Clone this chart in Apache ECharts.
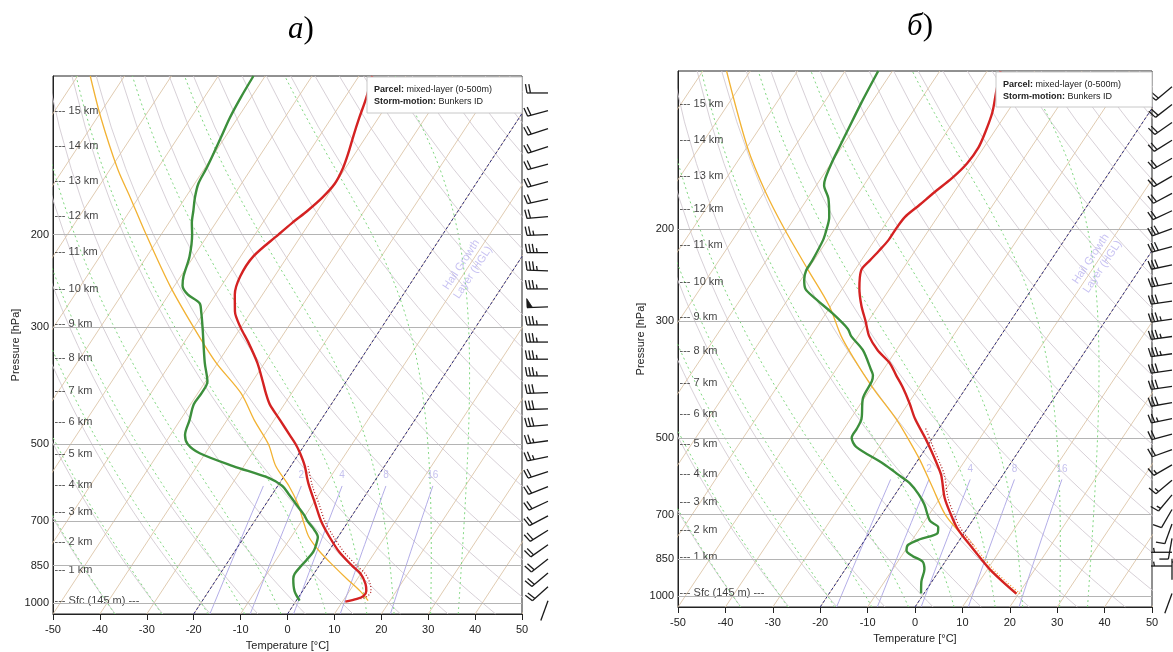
<!DOCTYPE html>
<html>
<head>
<meta charset="utf-8">
<script src="https://cdn.jsdelivr.net/npm/echarts@6/dist/echarts.min.js"></script>
<style>
  html, body { margin: 0; padding: 0; background: #fff; }
  #chart { width: 1173px; height: 652px; }
</style>
</head>
<body>
<div id="chart"></div>
<script>
// ---------------------------------------------------------------
// Skew-T / log-p geometry: x = T + SKEW * ln(P_BOTTOM / p)
// ---------------------------------------------------------------
const P_BOTTOM = 1050;
const P_TOP = 100;
const SKEW = 32;
const skewX = (t, p) => t + SKEW * Math.log(P_BOTTOM / p);

const FONT = 'Liberation Sans, Arial, sans-serif';

// Axis tick labels
const tempTicks = [-50, -40, -30, -20, -10, 0, 10, 20, 30, 40, 50];
const pressureTicks = [100, 200, 300, 500, 700, 850, 1000];
const heightNames = ['Sfc (145 m)', '1 km', '2 km', '3 km', '4 km', '5 km', '6 km', '7 km',
  '8 km', '9 km', '10 km', '11 km', '12 km', '13 km', '14 km', '15 km'];

// ---------------- Sounding а) ----------------  [pressure hPa, value °C]
const temperatureA = [[100,-57.2],[110,-55.4],[120,-54.1],[130,-52.8],[140,-51.5],[150,-50.5],[160,-50.1],
  [170,-50.8],[180,-52.1],[190,-53.7],[200,-55.0],[220,-57.3],[240,-57.3],[260,-55.9],[280,-53.5],
  [300,-50.1],[320,-46.4],[350,-41.6],[380,-37.8],[400,-35.5],[420,-33.1],[450,-28.7],[480,-24.6],
  [500,-22.0],[520,-19.8],[550,-17.0],[580,-14.8],[600,-13.3],[650,-9.4],[700,-5.8],[750,-1.8],
  [800,2.3],[850,7.0],[880,9.9],[920,12.4],[950,13.6],[970,13.7],[983,12.7],[995,10.6]];
const dewpointA = [[100,-82.5],[110,-82.2],[120,-81.7],[130,-80.9],[140,-80.2],[150,-79.6],[160,-79.2],
  [170,-78.0],[180,-76.5],[190,-75.1],[200,-73.4],[220,-70.9],[240,-69.4],[250,-68.3],[260,-65.9],
  [270,-62.2],[280,-60.7],[300,-58.2],[350,-52.8],[380,-49.6],[400,-49.2],[420,-49.3],[450,-48.0],
  [480,-46.9],[500,-45.0],[520,-41.2],[550,-32.3],[580,-22.9],[600,-19.0],[620,-16.7],[650,-13.5],
  [680,-10.4],[700,-8.7],[720,-6.7],[750,-4.3],[780,-3.5],[800,-3.2],[830,-3.5],[850,-3.8],
  [880,-4.1],[900,-3.7],[950,-1.7],[990,0.7]];
const parcelA = [[100,-117.3],[120,-109.2],[150,-98.5],[170,-91.8],[200,-83.2],[250,-71.0],[300,-60.1],
  [350,-50.4],[400,-40.8],[450,-34.2],[500,-27.8],[550,-23.2],[600,-17.6],[650,-13.1],[700,-9.6],
  [750,-6.2],[800,-1.8],[850,3.0],[900,7.7],[950,12.3],[990,15.3]];
const virtualTempA = [[550,-16.3],[600,-12.6],[650,-8.6],[700,-5.0],[750,-0.9],[800,3.3],[850,8.0],
  [880,10.9],[920,13.4],[950,14.6],[970,14.6],[983,13.5]];
const heightLevelsA = [990,865.3,765.2,673.3,596.4,522.7,454.6,395.6,343.3,296.1,253.4,216.0,184.5,158.5,136.0,116.4];
const windLevelsA = [107.7,116.4,125.9,136.2,147.0,158.7,171.3,184.9,200.0,216.4,234.3,253.6,274.3,296.8,
  319.9,344.8,370.9,398.9,428.2,459.4,492.4,527.6,563.4,601.5,641.4,683.6,728.3,776.0,825.7,878.1,932.2,991];
const windDirA = [270,255,252,252,255,255,258,265,268,270,272,270,268,270,270,270,270,268,268,265,262,258,
  252,248,245,242,238,235,232,230,228,200];
const windSpeedA = [20,20,20,20,20,20,20,20,25,35,35,35,50,35,35,35,35,30,30,30,25,25,20,20,20,20,20,20,20,20,20,2];

// ---------------- Sounding б) ----------------
const temperatureB = [[100,-57.2],[110,-55.1],[120,-53.1],[130,-51.9],[140,-51.1],[150,-51.3],[160,-52.4],
  [170,-54.1],[180,-55.5],[190,-56.9],[200,-57.1],[210,-57.1],[220,-57.6],[230,-58.2],[240,-58.6],
  [260,-56.4],[280,-53.6],[300,-50.5],[320,-47.7],[340,-44.0],[360,-39.6],[380,-36.5],[400,-33.5],
  [430,-29.7],[460,-26.4],[500,-21.6],[530,-18.4],[560,-15.5],[590,-12.9],[650,-9.1],[700,-5.4],
  [740,-2.4],[770,0.2],[800,2.9],[830,5.5],[860,8.0],[890,10.5],[940,15.0],[990,19.5]];
const dewpointB = [[100,-83.0],[115,-82.1],[130,-81.1],[140,-80.5],[150,-79.9],[160,-79.1],[165,-78.4],
  [175,-75.6],[190,-72.8],[200,-71.7],[210,-70.9],[230,-70.3],[240,-70.2],[250,-69.3],[260,-67.8],
  [270,-64.8],[290,-58.5],[310,-53.2],[320,-51.5],[340,-47.1],[370,-42.7],[380,-41.4],[390,-40.8],
  [420,-40.3],[460,-37.7],[480,-37.3],[500,-37.1],[520,-34.9],[560,-26.8],[590,-21.7],[610,-18.5],
  [640,-15.1],[670,-12.4],[720,-8.9],[740,-6.3],[760,-5.6],[780,-8.5],[800,-10.2],[820,-9.7],
  [840,-7.6],[860,-4.8],[890,-3.3],[940,-2.2],[990,-0.6]];
const parcelB = [[100,-115.0],[140,-99.8],[170,-89.8],[200,-80.6],[240,-69.7],[280,-60.4],[320,-53.6],
  [350,-48.3],[400,-39.9],[460,-30.4],[500,-25.3],[550,-19.7],[620,-13.2],[700,-6.6],[770,0.2],
  [830,5.5],[890,10.5],[940,15.0],[990,19.6]];
const virtualTempB = [[480,-22.8],[530,-17.7],[560,-14.8],[590,-12.2],[650,-8.4],[700,-4.7],[740,-1.7],
  [770,0.9],[800,3.6]];
const parcelVirtualB = [[770,0.9],[830,6.2],[890,11.2],[940,15.7],[990,20.3]];
const heightLevelsB = [987.3,842.2,748.1,661.3,585.8,514.6,450.9,392.3,341.4,294.1,252.1,214.7,182.9,158.2,135.5,115.8];
const windLevelsB = [107.2,115.8,125.3,135.5,146.6,158.6,171.1,184.6,199.7,216.1,234.1,253.7,274.5,297.0,
  320.5,345.7,371.4,398.9,428.3,459.5,491.8,526.3,563.0,602.0,642.1,684.5,729.3,777.1,825.9,877.2,931.8,990];
const windDirB = [230,232,235,238,240,240,242,245,250,255,258,260,262,262,262,262,262,262,260,258,255,250,
  240,230,220,210,200,190,270,270,0,200];
const windSpeedB = [20,20,20,20,20,20,20,20,30,30,30,30,30,35,35,35,30,30,30,25,20,20,15,15,15,10,10,10,5,5,5,2];

// Reference isopleths
const isotherms = [];
for (let t = -130; t <= 50; t += 10) isotherms.push(t);
const dryAdiabats = [];          // potential temperature, °C
for (let th = -40; th <= 210; th += 10) dryAdiabats.push(th);
const moistAdiabats = [-40, -30, -20, -12, -4, 6, 15, 21, 29, 35];   // wet-bulb potential temperature, °C
const mixingRatios = [1, 2, 4, 8, 16];                               // g/kg
const mixingLabels = [2, 4, 8, 16];
const hglIsotherms = [-20, 0];

// ---------------- thermodynamics for the background lines ----------------
const RD = 287.04, CP = 1005.7, LV = 2.501e6, EPS = 0.622;
const satVap = tc => 6.112 * Math.exp(17.67 * tc / (tc + 243.5));
function moistLapse(tk, p) {
  const es = satVap(tk - 273.15);
  const rs = EPS * es / (p - es);
  return (RD * tk + LV * rs) / (p * (CP + LV * LV * rs * EPS / (RD * tk * tk)));
}
function moistAdiabatLine(thetaW) {
  const up = [], down = [];
  let t = thetaW + 273.15, p = 1000;
  while (p > P_TOP) {
    const dp = -Math.min(5, p - P_TOP);
    const k1 = moistLapse(t, p), k2 = moistLapse(t + k1 * dp, p + dp);
    t += 0.5 * (k1 + k2) * dp; p += dp;
    up.push([skewX(t - 273.15, p), p]);
  }
  t = thetaW + 273.15; p = 1000;
  while (p < P_BOTTOM) {
    const dp = Math.min(5, P_BOTTOM - p);
    const k1 = moistLapse(t, p), k2 = moistLapse(t + k1 * dp, p + dp);
    t += 0.5 * (k1 + k2) * dp; p += dp;
    down.push([skewX(t - 273.15, p), p]);
  }
  return down.reverse().concat([[skewX(thetaW, 1000), 1000]], up);
}
function dryAdiabatLine(thetaC) {
  const pts = [];
  for (let p = P_BOTTOM; p >= P_TOP; p -= 25) {
    const t = (thetaC + 273.15) * Math.pow(p / 1000, RD / CP) - 273.15;
    pts.push([skewX(t, p), p]);
  }
  return pts;
}
function mixingRatioDew(w, p) {
  const e = (w / 1000) * p / (EPS + w / 1000);
  const l = Math.log(e / 6.112);
  return 243.5 * l / (17.67 - l);
}
const MIX_TOP = 600;
function mixingRatioLine(w) {
  const pts = [];
  for (let p = P_BOTTOM; p >= MIX_TOP; p -= 25) pts.push([skewX(mixingRatioDew(w, p), p), p]);
  return pts;
}
const isothermLine = t => [[skewX(t, P_BOTTOM), P_BOTTOM], [skewX(t, P_TOP), P_TOP]];
const profile = arr => arr.map(([p, t]) => [skewX(t, p), p]);

// ---------------- wind barbs ----------------
function renderBarb(params, api) {
  const pt = api.coord([api.value(0), api.value(1)]);
  const dir = api.value(2) * Math.PI / 180;
  const spd = api.value(3);
  const ux = Math.sin(dir), uy = -Math.cos(dir);
  const L = 21, F = 9, GAP = 3.4;
  const tip = [pt[0] + ux * L, pt[1] + uy * L];
  const px = -uy, py = ux;
  const lean = 80 * Math.PI / 180;
  const fx = px * Math.sin(lean) + ux * Math.cos(lean);
  const fy = py * Math.sin(lean) + uy * Math.cos(lean);
  const stroke = { stroke: '#1a1a1a', lineWidth: 1.3, fill: null };
  const at = d => [tip[0] - ux * d, tip[1] - uy * d];
  const children = [{ type: 'line', shape: { x1: pt[0], y1: pt[1], x2: tip[0], y2: tip[1] }, style: stroke }];
  let s = Math.round(spd / 5) * 5;
  let pos = 0;
  while (s >= 50) {
    const a = at(pos), b = at(pos + GAP * 1.6);
    children.push({ type: 'polygon', shape: { points: [a, b, [a[0] + px * F, a[1] + py * F]] },
      style: { fill: '#1a1a1a', stroke: '#1a1a1a', lineWidth: 0.8 } });
    pos += GAP * 1.9; s -= 50;
  }
  while (s >= 10) {
    const a = at(pos);
    children.push({ type: 'line', shape: { x1: a[0], y1: a[1], x2: a[0] + fx * F, y2: a[1] + fy * F }, style: stroke });
    pos += GAP; s -= 10;
  }
  if (s >= 5) {
    if (pos === 0) pos = GAP;
    const a = at(pos);
    children.push({ type: 'line', shape: { x1: a[0], y1: a[1], x2: a[0] + fx * F * 0.5, y2: a[1] + fy * F * 0.5 }, style: stroke });
  }
  return { type: 'group', children };
}

// ---------------- layout of the two diagrams ----------------
const panels = [
  { grid: { left: 53, top: 76, width: 469, height: 538 }, barb: { left: 540, top: 76, width: 16, height: 538 },
    temp: temperatureA, dew: dewpointA, parcel: parcelA, virt: virtualTempA, parcelVirt: null,
    heights: heightLevelsA, windP: windLevelsA, windDir: windDirA, windSpd: windSpeedA },
  { grid: { left: 678, top: 71, width: 474, height: 536 }, barb: { left: 1164, top: 71, width: 16, height: 536 },
    temp: temperatureB, dew: dewpointB, parcel: parcelB, virt: virtualTempB, parcelVirt: parcelVirtualB,
    heights: heightLevelsB, windP: windLevelsB, windDir: windDirB, windSpd: windSpeedB }
];

const grids = [], xAxes = [], yAxes = [], series = [];
const bgLine = (ax, data, style, z) => ({
  type: 'line', xAxisIndex: ax, yAxisIndex: ax, data, symbol: 'none', showSymbol: false,
  silent: true, animation: false, lineStyle: style, z, clip: true
});

panels.forEach((pn, i) => {
  const ax = i * 2, bx = i * 2 + 1;
  grids.push(Object.assign({ show: true, borderColor: '#222', borderWidth: 1, backgroundColor: 'transparent',
    containLabel: false, outerBoundsMode: 'none' }, pn.grid));
  grids.push(Object.assign({ show: false, containLabel: false, outerBoundsMode: 'none' }, pn.barb));
  xAxes.push({
    gridIndex: ax, type: 'value', min: tempTicks[0], max: tempTicks[tempTicks.length - 1], interval: 10,
    axisLine: { show: true, onZero: false, lineStyle: { color: '#222', width: 1 } },
    axisTick: { show: true, length: 6, lineStyle: { color: '#222' } },
    axisLabel: { color: '#222', fontSize: 11, fontFamily: FONT, margin: 10 },
    splitLine: { show: false },
    name: 'Temperature [°C]', nameLocation: 'middle', nameGap: 26,
    nameTextStyle: { color: '#222', fontSize: 11, fontFamily: FONT }
  });
  xAxes.push({ gridIndex: bx, type: 'value', min: 0, max: 1, show: false });
  yAxes.push({
    gridIndex: ax, type: 'log', logBase: 10, min: P_TOP, max: P_BOTTOM, inverse: true,
    axisLine: { show: true, onZero: false, lineStyle: { color: '#222', width: 1 } },
    axisTick: { show: false }, axisLabel: { show: false }, splitLine: { show: false },
    name: 'Pressure [hPa]', nameLocation: 'middle', nameGap: 32, nameRotate: 90,
    nameTextStyle: { color: '#222', fontSize: 11, fontFamily: FONT }
  });
  yAxes.push({ gridIndex: bx, type: 'log', logBase: 10, min: P_TOP, max: P_BOTTOM, inverse: true, show: false });

  // dry adiabats, isotherms, moist adiabats, mixing ratio lines
  dryAdiabats.forEach(th => series.push(bgLine(ax, dryAdiabatLine(th), { color: '#d3cbd2', width: 0.9 }, 1)));
  isotherms.forEach(t => series.push(bgLine(ax, isothermLine(t), { color: '#dcc5a8', width: 0.9 }, 1)));
  moistAdiabats.forEach(tw => series.push(bgLine(ax, moistAdiabatLine(tw), { color: '#7fd67f', width: 1, type: [2, 3] }, 1)));
  mixingRatios.forEach(w => series.push(bgLine(ax, mixingRatioLine(w), { color: '#aaa4e4', width: 0.9 }, 1)));
  series.push({
    type: 'scatter', xAxisIndex: ax, yAxisIndex: ax, silent: true, animation: false, z: 1,
    symbolSize: 1, itemStyle: { color: 'transparent' },
    data: mixingLabels.map(w => ({ value: [skewX(mixingRatioDew(w, MIX_TOP), MIX_TOP), MIX_TOP], name: String(w) })),
    label: { show: true, position: 'top', distance: 5, formatter: '{b}', color: '#b7b1ea', fontSize: 10, fontFamily: FONT }
  });

  // isobars with their pressure labels
  series.push({
    type: 'line', xAxisIndex: ax, yAxisIndex: ax, data: [], silent: true, animation: false, z: 2,
    markLine: {
      silent: true, symbol: 'none', animation: false,
      lineStyle: { color: '#b4b4b4', width: 1, type: 'solid' },
      label: { show: true, position: 'start', distance: 4, formatter: '{c}', color: '#222', fontSize: 11, fontFamily: FONT },
      data: pressureTicks.map(p => p === P_TOP ? { yAxis: p, lineStyle: { opacity: 0 } } : { yAxis: p })
    }
  });

  // hail growth layer boundaries
  hglIsotherms.forEach(t => series.push(bgLine(ax, isothermLine(t), { color: '#2e2e80', width: 1, type: [3, 2] }, 3)));
  series.push({
    type: 'scatter', xAxisIndex: ax, yAxisIndex: ax, silent: true, animation: false, z: 3,
    symbolSize: 1, itemStyle: { color: 'transparent' },
    data: [{ value: [skewX(-10, 232), 232], name: 'Hail Growth\nLayer (HGL)' }],
    label: { show: true, position: 'inside', formatter: '{b}', rotate: 56.5, color: '#b9b2ef',
      fontSize: 11, lineHeight: 14, fontFamily: FONT, align: 'center', verticalAlign: 'middle' }
  });

  // height markers
  series.push({
    type: 'scatter', xAxisIndex: ax, yAxisIndex: ax, silent: true, animation: false, z: 4,
    symbolSize: 1, itemStyle: { color: 'transparent' },
    data: pn.heights.map((p, k) => ({ value: [tempTicks[0], p], name: k === 0 ? '--- ' + heightNames[k] + ' ---' : '--- ' + heightNames[k] })),
    label: { show: true, position: 'right', distance: 1, formatter: '{b}', color: '#111', fontSize: 11, fontFamily: FONT }
  });

  // sounding curves
  const curve = (data, style, z) => ({
    type: 'line', xAxisIndex: ax, yAxisIndex: ax, data, symbol: 'none', showSymbol: false, smooth: 0.3,
    silent: true, animation: false, lineStyle: style, z
  });
  series.push(curve(profile(pn.parcel), { color: '#f2b233', width: 1.3 }, 5));
  series.push(curve(profile(pn.dew), { color: '#3c8f3c', width: 2.4 }, 6));
  series.push(curve(profile(pn.temp), { color: '#d42222', width: 2.4 }, 6));
  series.push(curve(profile(pn.virt), { color: '#b01a1a', width: 1.2, type: [1, 2] }, 7));
  if (pn.parcelVirt) series.push(curve(profile(pn.parcelVirt), { color: '#f59a3a', width: 1.4, type: [1, 2] }, 7));

  // wind barbs
  series.push({
    type: 'custom', xAxisIndex: bx, yAxisIndex: bx, silent: true, animation: false, z: 5, clip: false,
    renderItem: renderBarb, encode: { x: 0, y: 1 },
    data: pn.windP.map((p, k) => [0.5, p, pn.windDir[k], pn.windSpd[k]])
  });
});

// parcel / storm-motion boxes and panel captions
const infoBox = (x, y, w, h) => ({
  type: 'group', z: 100, children: [
    { type: 'rect', z: 100, shape: { x, y, width: w, height: h }, style: { fill: '#fff', stroke: '#c8c8c8', lineWidth: 1 } },
    { type: 'text', z: 101, x: x + 7, y: y + 6, style: {
      text: '{b|Parcel:} mixed-layer (0-500m)\n{b|Storm-motion:} Bunkers ID',
      fontSize: 9, fontFamily: FONT, fill: '#222', lineHeight: 12.5,
      rich: { b: { fontWeight: 'bold', fontSize: 9, fontFamily: FONT, fill: '#222' } } } }
  ]
});
const caption = (x, y, letter) => ({
  type: 'text', z: 100, x, y, style: {
    text: '{i|' + letter + '})', fontSize: 31, fontFamily: 'Liberation Serif, serif', fill: '#000',
    align: 'center', verticalAlign: 'middle',
    rich: { i: { fontStyle: 'italic', fontSize: 31, fontFamily: 'Liberation Serif, serif', fill: '#000' } } }
});

const chart = echarts.init(document.getElementById('chart'), null, { renderer: 'canvas' });
chart.setOption({
  animation: false,
  backgroundColor: '#fff',
  textStyle: { fontFamily: FONT },
  grid: grids,
  xAxis: xAxes,
  yAxis: yAxes,
  series,
  graphic: [
    infoBox(367, 77, 155, 36),
    infoBox(996, 72, 156, 35),
    caption(301, 30, 'а'),
    caption(920, 27, 'б')
  ]
});
</script>
</body>
</html>
